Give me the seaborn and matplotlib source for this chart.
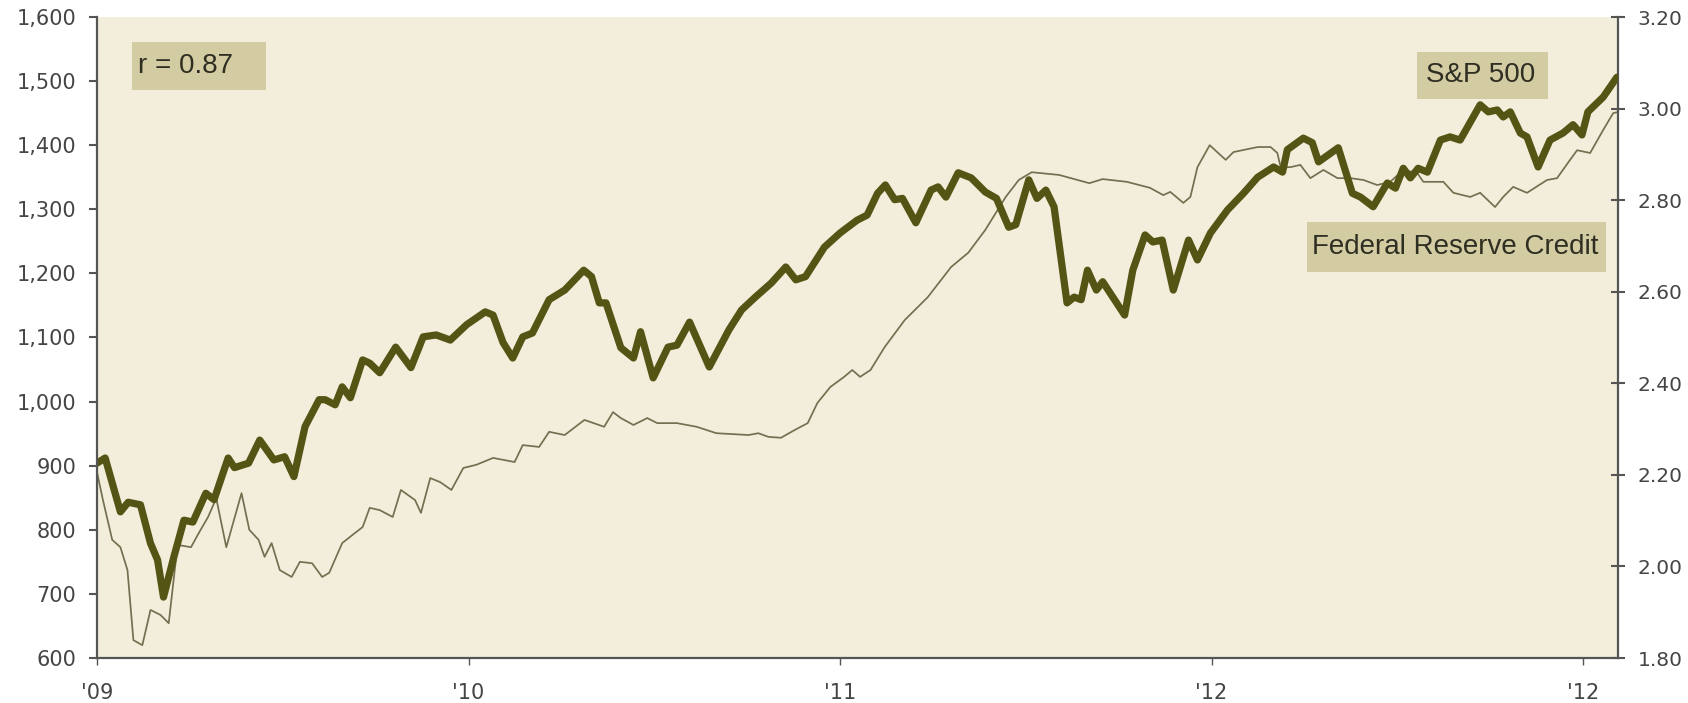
import matplotlib
matplotlib.use('Agg')
import pandas as pd
import matplotlib.pyplot as plt
import seaborn as sns
from matplotlib.patches import Rectangle
from matplotlib.ticker import FuncFormatter, FormatStrFormatter

# S&P 500 (left axis)
sp_year = [2009.000, 2009.022, 2009.063, 2009.084, 2009.117, 2009.144, 2009.163, 2009.179, 2009.207, 2009.234,
           2009.258, 2009.293, 2009.315, 2009.353, 2009.370, 2009.408, 2009.438, 2009.476, 2009.505, 2009.530,
           2009.560, 2009.598, 2009.614, 2009.641, 2009.660, 2009.682, 2009.715, 2009.734, 2009.761, 2009.804,
           2009.845, 2009.878, 2009.913, 2009.951, 2009.995,
           2010.045, 2010.066, 2010.093, 2010.119, 2010.146, 2010.172, 2010.217, 2010.259, 2010.310, 2010.331,
           2010.352, 2010.370, 2010.410, 2010.444, 2010.463, 2010.497, 2010.537, 2010.561, 2010.595, 2010.648,
           2010.701, 2010.735, 2010.772, 2010.815, 2010.854, 2010.881, 2010.907, 2010.958,
           2011.000, 2011.046, 2011.073, 2011.101, 2011.122, 2011.147, 2011.168, 2011.204, 2011.245, 2011.264,
           2011.285, 2011.318, 2011.353, 2011.391, 2011.421, 2011.454, 2011.473, 2011.508, 2011.530, 2011.554,
           2011.576, 2011.611, 2011.630, 2011.649, 2011.666, 2011.690, 2011.707, 2011.766, 2011.788, 2011.821,
           2011.842, 2011.867, 2011.897, 2011.938, 2011.962, 2011.997,
           2012.043, 2012.086, 2012.124, 2012.167, 2012.191, 2012.204, 2012.247, 2012.271, 2012.288, 2012.341,
           2012.379, 2012.401, 2012.435, 2012.473, 2012.495, 2012.516, 2012.535, 2012.556, 2012.581, 2012.616,
           2012.642, 2012.669, 2012.723, 2012.745, 2012.769, 2012.785, 2012.804, 2012.831, 2012.849, 2012.879,
           2012.911, 2012.946, 2012.973, 2012.997,
           2013.013, 2013.054, 2013.091]
sp_value = [904, 912, 828, 843, 839, 779, 753, 695, 758, 815,
            812, 857, 847, 912, 897, 904, 940, 909, 914, 883,
            961, 1003, 1003, 995, 1023, 1006, 1065, 1060, 1045, 1085,
            1053, 1101, 1104, 1096, 1120,
            1140, 1135, 1092, 1068, 1101, 1107, 1159, 1174, 1205, 1195,
            1154, 1154, 1084, 1068, 1109, 1037, 1085, 1088, 1124, 1054,
            1112, 1143, 1163, 1185, 1210, 1190, 1195, 1241,
            1263, 1283, 1291, 1325, 1338, 1315, 1317, 1279, 1330, 1335,
            1319, 1357, 1349, 1327, 1317, 1272, 1276, 1346, 1317, 1330,
            1304, 1154, 1163, 1159, 1205, 1174, 1187, 1135, 1205, 1260,
            1249, 1252, 1174, 1252, 1221, 1263,
            1299, 1325, 1350, 1366, 1358, 1393, 1411, 1404, 1374, 1396,
            1325, 1319, 1304, 1341, 1333, 1364, 1349, 1364, 1358, 1408,
            1413, 1408, 1463, 1452, 1455, 1444, 1452, 1419, 1413, 1366,
            1408, 1419, 1432, 1416,
            1452, 1475, 1506]

# Federal Reserve Credit, $ trillions (right axis)
fed_year = [2009.000, 2009.016, 2009.041, 2009.063, 2009.082, 2009.098, 2009.122, 2009.144, 2009.171, 2009.193,
            2009.217, 2009.253, 2009.274, 2009.299, 2009.321, 2009.348, 2009.389, 2009.410, 2009.435, 2009.451,
            2009.470, 2009.492, 2009.524, 2009.546, 2009.579, 2009.606, 2009.625, 2009.660, 2009.688, 2009.715,
            2009.734, 2009.761, 2009.796, 2009.818, 2009.856, 2009.872, 2009.897, 2009.924, 2009.954, 2009.986,
            2010.021, 2010.066, 2010.124, 2010.146, 2010.190, 2010.217, 2010.259, 2010.312, 2010.365, 2010.389,
            2010.410, 2010.444, 2010.481, 2010.508, 2010.561, 2010.614, 2010.667, 2010.754, 2010.780, 2010.807,
            2010.841, 2010.878, 2010.913, 2010.939, 2010.974,
            2011.011, 2011.033, 2011.054, 2011.082, 2011.120, 2011.174, 2011.236, 2011.299, 2011.345, 2011.391,
            2011.446, 2011.481, 2011.516, 2011.590, 2011.671, 2011.707, 2011.772, 2011.834, 2011.870, 2011.889,
            2011.924, 2011.943, 2011.962, 2011.995,
            2012.038, 2012.059, 2012.124, 2012.159, 2012.177, 2012.186, 2012.212, 2012.239, 2012.266, 2012.301,
            2012.339, 2012.374, 2012.409, 2012.446, 2012.481, 2012.516, 2012.554, 2012.570, 2012.624, 2012.651,
            2012.696, 2012.723, 2012.763, 2012.785, 2012.812, 2012.849, 2012.903, 2012.930, 2012.965, 2012.984,
            2013.019, 2013.054, 2013.081, 2013.091]
fed_value = [2.206, 2.145, 2.058, 2.042, 1.992, 1.839, 1.828, 1.905, 1.894, 1.876,
             2.047, 2.042, 2.073, 2.108, 2.149, 2.042, 2.160, 2.080, 2.058, 2.021,
             2.051, 1.992, 1.977, 2.010, 2.007, 1.977, 1.986, 2.051, 2.069, 2.086,
             2.128, 2.123, 2.108, 2.167, 2.145, 2.117, 2.193, 2.184, 2.167, 2.215,
             2.222, 2.237, 2.228, 2.265, 2.261, 2.294, 2.287, 2.320, 2.305, 2.337,
             2.324, 2.309, 2.324, 2.313, 2.313, 2.305, 2.291, 2.287, 2.291, 2.283,
             2.281, 2.298, 2.313, 2.357, 2.392,
             2.414, 2.429, 2.414, 2.429, 2.479, 2.538, 2.588, 2.654, 2.685, 2.735,
             2.807, 2.844, 2.861, 2.855, 2.837, 2.846, 2.840, 2.827, 2.811, 2.818,
             2.794, 2.807, 2.872, 2.920,
             2.888, 2.905, 2.916, 2.916, 2.903, 2.872, 2.872, 2.877, 2.848, 2.866,
             2.848, 2.848, 2.844, 2.833, 2.840, 2.866, 2.859, 2.840, 2.840, 2.816,
             2.807, 2.816, 2.785, 2.807, 2.829, 2.816, 2.844, 2.848, 2.888, 2.909,
             2.903, 2.953, 2.990, 2.992]

year_ticks = [2009, 2010, 2011, 2012, 2013]
year_labels = ["'09", "'10", "'11", "'12", "'12"]

sp = pd.DataFrame({'year': sp_year, 'value': sp_value})
fed = pd.DataFrame({'year': fed_year, 'value': fed_value})

bg = '#f2eedb'
box = '#d3cba2'
thick = '#545514'
thin = '#736f50'
axis_col = '#555555'
label_col = '#454545'

sns.set_theme(style='white')
plt.rcParams['font.family'] = ['DejaVu Sans']

W, H = 1688, 703
fig = plt.figure(figsize=(W / 100, H / 100), dpi=100)
ax = fig.add_axes([97 / W, 1 - 658 / H, (1618 - 97) / W, (658 - 17) / H])
ax2 = ax.twinx()

sns.lineplot(data=fed, x='year', y='value', ax=ax2, color=thin, linewidth=1.25, estimator=None)
sns.lineplot(data=sp, x='year', y='value', ax=ax, color=thick, linewidth=5.2, estimator=None,
             solid_joinstyle='round', solid_capstyle='round')

# S&P line above, background from the twin
ax.set_zorder(ax2.get_zorder() + 1)
ax.patch.set_visible(False)
ax2.patch.set_visible(True)
ax2.set_facecolor(bg)

ax.set_xlim(2009.0, 2013.094)
ax.set_ylim(600, 1600)
ax2.set_ylim(1.80, 3.20)
ax.set_yticks(range(600, 1601, 100))
ax2.set_yticks([1.8, 2.0, 2.2, 2.4, 2.6, 2.8, 3.0, 3.2])
ax.set_xticks(year_ticks)
ax.set_xticklabels(year_labels)
ax.yaxis.set_major_formatter(FuncFormatter(lambda v, p: f'{v:,.0f}'))
ax2.yaxis.set_major_formatter(FormatStrFormatter('%.2f'))
for a in (ax, ax2):
    a.set_xlabel('')
    a.set_ylabel('')

for s in ('top', 'right'):
    ax.spines[s].set_visible(False)
for s in ('top', 'left', 'bottom'):
    ax2.spines[s].set_visible(False)
for s in ('left', 'bottom'):
    ax.spines[s].set_color(axis_col)
    ax.spines[s].set_linewidth(1.6)
ax2.spines['right'].set_color(axis_col)
ax2.spines['right'].set_linewidth(1.6)

ax.tick_params(axis='y', left=True, direction='out', length=6, width=1.5, color=axis_col,
               pad=9, labelsize=15, labelcolor=label_col)
ax.tick_params(axis='x', bottom=True, direction='out', length=5, width=1.0, color=axis_col,
               pad=13, labelsize=15, labelcolor=label_col)
ax2.tick_params(axis='y', right=True, direction='inout', length=10, width=1.5, color=axis_col,
                pad=9, labelsize=14.5, labelcolor=label_col)

# label boxes (pixel positions)
def label_box(x0, y0, x1, y1, text, tx, ha):
    fig.add_artist(Rectangle((x0 / W, 1 - y1 / H), (x1 - x0) / W, (y1 - y0) / H,
                             transform=fig.transFigure, facecolor=box, edgecolor='none'))
    fig.text(tx / W, 1 - (y0 + y1) / 2 / H, text, ha=ha, va='center', fontsize=20,
             color='#2e2e22', family=['Liberation Sans', 'DejaVu Sans'])

label_box(132, 42, 266, 90, 'r = 0.87', 138, 'left')
label_box(1417, 52, 1548, 99, 'S&P 500', 1481, 'center')
label_box(1307, 222, 1606, 272, 'Federal Reserve Credit', 1455, 'center')

fig.savefig('out.png', dpi=100, facecolor='white')
